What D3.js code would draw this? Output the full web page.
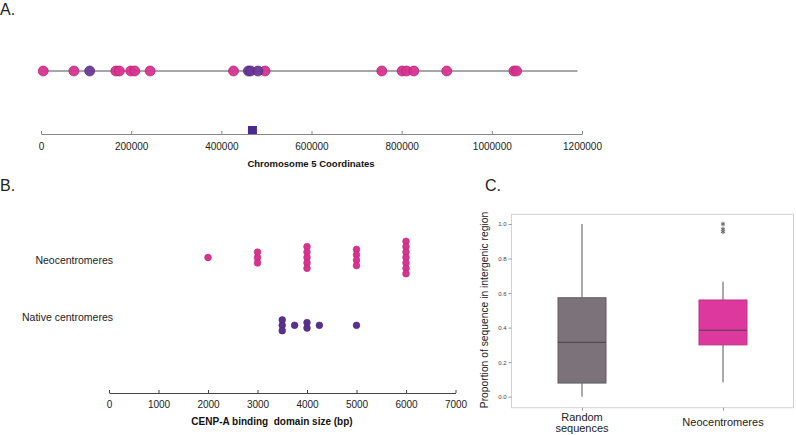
<!DOCTYPE html>
<html><head><meta charset="utf-8">
<script src="https://cdn.jsdelivr.net/npm/d3@7"></script>
<style>body{margin:0;background:#fff}svg{display:block;font-family:"Liberation Sans",Arial,sans-serif}</style>
</head><body><svg id="c" width="796" height="435"></svg>
<script>
// ---------- Data ----------
// Panel A: neocentromere positions on chromosome 5 (bp)
const pinkPositions = [5000, 73000, 166000, 174000, 199000, 208000, 242000, 427000, 497000, 756000, 801000, 811000, 827000, 900000, 1049000, 1055000];
const purplePositions = [108000, 460000, 465000, 481000];
const nativeCentromerePos = [469000];
const chromosomeLength = 1190000;
const coordTicks = [0, 200000, 400000, 600000, 800000, 1000000, 1200000];

// Panel B: CENP-A binding domain size (bp)
const bCategories = ["Neocentromeres", "Native centromeres"];
const neoSizes = [2000, 3000, 3000, 3000, 4000, 4000, 4000, 4000, 4000, 5000, 5000, 5000, 5000, 6000, 6000, 6000, 6000, 6000, 6000, 6000];
const nativeSizes = [3500, 3500, 3500, 3750, 4000, 4000, 4250, 5000];
const sizeTicks = [0, 1000, 2000, 3000, 4000, 5000, 6000, 7000];

// Panel C: box plots
const cCategories = ["Random sequences", "Neocentromeres"];
const boxLow = [0.0, 0.083];
const boxQ1 = [0.079, 0.30];
const boxMedian = [0.315, 0.385];
const boxQ3 = [0.573, 0.56];
const boxHigh = [1.0, 0.666];
const neoOutliers = [1.0, 0.97, 0.955];
const propTicks = [0.0, 0.2, 0.4, 0.6, 0.8, 1.0];

const svg = d3.select("#c");
const PINK = "#d8338f", PINK_S = "#b1206f", PURPLE = "#6c3896", PURPLE_S = "#55287d";

// ---------- Panel labels ----------
svg.append("text").attr("x", 0).attr("y", 15).attr("font-size", 16).attr("fill", "#222").text("A.");
svg.append("text").attr("x", 0).attr("y", 191).attr("font-size", 16).attr("fill", "#222").text("B.");
svg.append("text").attr("x", 485).attr("y", 191).attr("font-size", 16).attr("fill", "#222").text("C.");

// ---------- Panel A ----------
const xA = d3.scaleLinear().domain([0, 1200000]).range([41, 582]);
const yLine = 71, yAxisA = 134;
svg.append("line").attr("x1", xA(0)).attr("x2", xA(chromosomeLength))
  .attr("y1", yLine).attr("y2", yLine).attr("stroke", "#8a8a8a").attr("stroke-width", 1.6);
const aDots = pinkPositions.map(v => ({v, c: "p"})).concat(purplePositions.map(v => ({v, c: "u"})));
svg.append("g").selectAll("circle").data(aDots).join("circle")
  .attr("cx", d => xA(d.v)).attr("cy", yLine).attr("r", 5)
  .attr("fill", d => d.c === "p" ? PINK : PURPLE)
  .attr("stroke", d => d.c === "p" ? PINK_S : PURPLE_S).attr("stroke-width", 0.7).attr("fill-opacity", 0.95);

const axA = svg.append("g").attr("transform", `translate(0,${yAxisA})`)
  .call(d3.axisBottom(xA).tickValues(coordTicks).tickFormat(d3.format("d")).tickSizeInner(3).tickSizeOuter(0));
axA.select(".domain").attr("stroke", "#888");
axA.selectAll(".tick line").attr("stroke", "#888").attr("y1", -3).attr("y2", 0);
axA.selectAll("text").attr("font-size", 10).attr("fill", "#222").attr("y", 9).attr("font-family", "Liberation Sans, Arial");
svg.append("g").selectAll("rect").data(nativeCentromerePos).join("rect")
  .attr("x", d => xA(d) - 4.5).attr("y", yAxisA - 8).attr("width", 9).attr("height", 8)
  .attr("fill", "#4a2a8c");
svg.append("text").attr("x", 311).attr("y", 167).attr("text-anchor", "middle")
  .attr("font-size", 9.5).attr("font-weight", "bold").attr("fill", "#111").text("Chromosome 5 Coordinates");

// ---------- Panel B ----------
const xB = d3.scaleLinear().domain([0, 7000]).range([109, 455.5]);
const yB = d3.scaleOrdinal().domain(bCategories).range([257.5, 325.3]);
const yAxisB = 393;
function stack(values, cat) {
  const groups = d3.group(values, v => v);
  const out = [];
  for (const [v, arr] of groups) {
    const n = arr.length;
    arr.forEach((_, i) => out.push({v, cat, off: (i - (n - 1) / 2) * 5.4}));
  }
  return out;
}
const bDots = stack(neoSizes, bCategories[0]).concat(stack(nativeSizes, bCategories[1]));
svg.append("g").selectAll("circle").data(bDots).join("circle")
  .attr("cx", d => xB(d.v)).attr("cy", d => yB(d.cat) + d.off).attr("r", 3.4)
  .attr("fill", d => d.cat === bCategories[0] ? "#d8338f" : "#59308f")
  .attr("stroke", d => d.cat === bCategories[0] ? "#c02579" : "#482379").attr("stroke-width", 0.5);
svg.append("g").selectAll("text").data(bCategories).join("text")
  .attr("x", 113).attr("y", (d, i) => i === 0 ? 264 : 321)
  .attr("text-anchor", "end").attr("font-size", 10.5).attr("fill", "#222").text(d => d);
const axB = svg.append("g").attr("transform", `translate(0,${yAxisB})`)
  .call(d3.axisBottom(xB).tickValues(sizeTicks).tickFormat(d3.format("d")).tickSizeInner(3).tickSizeOuter(0));
axB.select(".domain").attr("stroke", "#444");
axB.selectAll(".tick line").attr("stroke", "#444").attr("y1", -3).attr("y2", 0);
axB.selectAll("text").attr("font-size", 10).attr("fill", "#222").attr("y", 8).attr("font-family", "Liberation Sans, Arial");
svg.append("text").attr("x", 272).attr("y", 425).attr("text-anchor", "middle").style("white-space", "pre")
  .attr("font-size", 10).attr("font-weight", "bold").attr("fill", "#111").text("CENP-A binding  domain size (bp)");

// ---------- Panel C ----------
const frame = {x0: 511.5, x1: 793.5, y0: 214.3, y1: 407.7};
const yC = d3.scaleLinear().domain([0, 1]).range([396.7, 224]);
const xC = d3.scalePoint().domain(cCategories).range([582, 723]);
svg.append("rect").attr("x", frame.x0).attr("y", frame.y0)
  .attr("width", frame.x1 - frame.x0).attr("height", frame.y1 - frame.y0)
  .attr("fill", "none").attr("stroke", "#d2d2d2").attr("stroke-width", 1);
const axC = svg.append("g").attr("transform", `translate(${frame.x0},0)`)
  .call(d3.axisLeft(yC).tickValues(propTicks).tickFormat(d3.format(".1f")).tickSizeInner(3).tickSizeOuter(0));
axC.select(".domain").remove();
axC.selectAll(".tick line").attr("stroke", "#999");
axC.selectAll("text").attr("font-size", 6).attr("fill", "#444").attr("x", -5).attr("font-family", "Liberation Sans, Arial");
const axCx = svg.append("g").attr("transform", `translate(0,${frame.y1})`)
  .call(d3.axisBottom(xC).tickSizeInner(3).tickSizeOuter(0).tickFormat(""));
axCx.select(".domain").remove();
axCx.selectAll(".tick line").attr("stroke", "#999");

svg.append("text").attr("transform", "translate(488,310) rotate(-90)").attr("text-anchor", "middle")
  .attr("font-size", 10.3).attr("fill", "#222").text("Proportion of sequence in intergenic region");

const boxes = cCategories.map((c, i) => ({c, lo: boxLow[i], q1: boxQ1[i], med: boxMedian[i], q3: boxQ3[i], hi: boxHigh[i],
  fill: i === 0 ? "#7b7379" : "#dd389e", stroke: i === 0 ? "#625b61" : "#bf3088"}));
const bw = 48;
const bg = svg.append("g").selectAll("g").data(boxes).join("g");
bg.append("line").attr("x1", d => xC(d.c)).attr("x2", d => xC(d.c))
  .attr("y1", d => yC(d.hi)).attr("y2", d => yC(d.lo)).attr("stroke", "#555").attr("stroke-width", 1);
bg.append("rect").attr("x", d => xC(d.c) - bw / 2).attr("width", bw)
  .attr("y", d => yC(d.q3)).attr("height", d => yC(d.q1) - yC(d.q3))
  .attr("fill", d => d.fill).attr("stroke", d => d.stroke).attr("stroke-width", 1);
bg.append("line").attr("x1", d => xC(d.c) - bw / 2).attr("x2", d => xC(d.c) + bw / 2)
  .attr("y1", d => yC(d.med)).attr("y2", d => yC(d.med)).attr("stroke", "#4a4448").attr("stroke-width", 1);
svg.append("g").selectAll("path").data(neoOutliers).join("path")
  .attr("transform", d => `translate(${xC(cCategories[1])},${yC(d)})`)
  .attr("d", d3.symbol(d3.symbolAsterisk, 16)).attr("stroke", "#666").attr("stroke-width", 1).attr("fill", "none");

svg.append("text").attr("x", xC(cCategories[0])).attr("y", 421).attr("text-anchor", "middle")
  .attr("font-size", 11).attr("fill", "#222").text("Random");
svg.append("text").attr("x", xC(cCategories[0])).attr("y", 432).attr("text-anchor", "middle")
  .attr("font-size", 11).attr("fill", "#222").text("sequences");
svg.append("text").attr("x", xC(cCategories[1])).attr("y", 426).attr("text-anchor", "middle")
  .attr("font-size", 11).attr("fill", "#222").text("Neocentromeres");
</script></body></html>
